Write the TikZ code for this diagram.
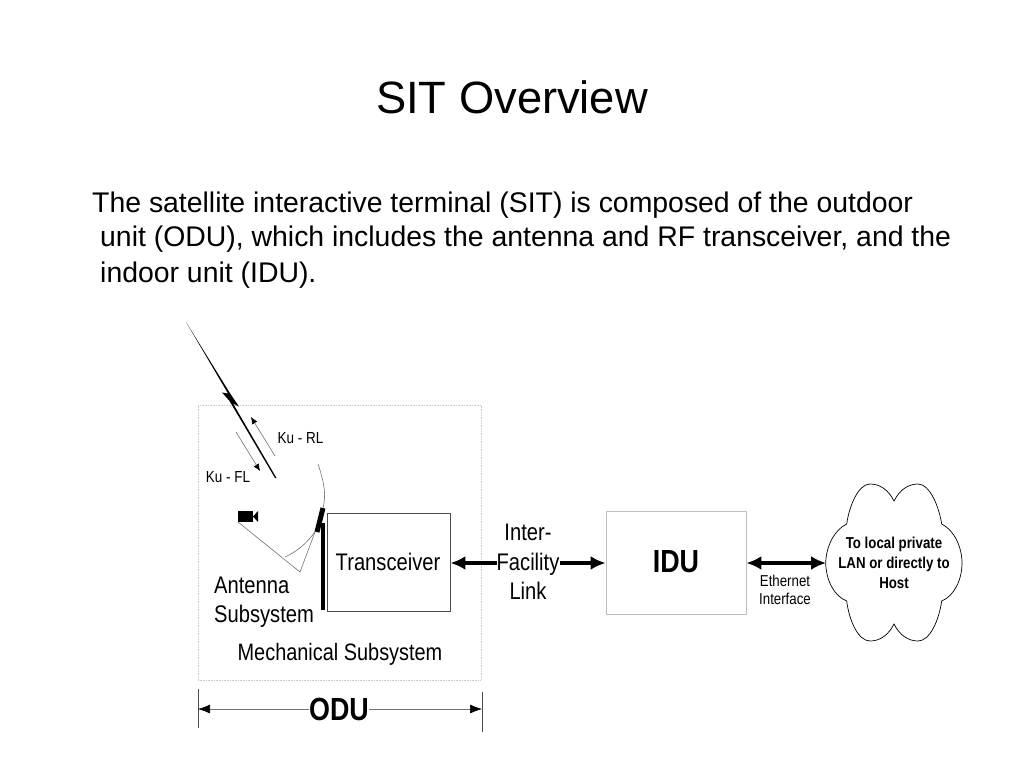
\documentclass[tikz,border=0pt]{standalone}
\usepackage{fontspec}
\setmainfont{Liberation Sans}
\newfontfamily\narrow[FakeStretch=0.84]{Liberation Sans}
\usetikzlibrary{arrows.meta}
\tikzset{
 x=1pt,y=-1pt,
 lbl/.style={inner sep=0pt,align=center,font=\narrow\fontsize{#1}{#1}\selectfont},
 lbl/.default=24,
 bodytext/.style={anchor=base west,inner sep=0pt,font=\fontsize{28.4}{30}\selectfont},
 thin grey/.style={draw=black!55,line width=0.6pt},
 bigarrow/.style={line width=3.2pt,{Latex[length=15pt,width=14pt]}-{Latex[length=15pt,width=14pt]}},
 singlearrow/.style={line width=3.2pt,-{Latex[length=15pt,width=14pt]}},
 smallarrow/.style={thin grey,-{Latex[length=7pt,width=6pt,black]}},
}
\begin{document}
\begin{tikzpicture}
\useasboundingbox (0,0) rectangle (1024,768);
\fill[white] (0,0) rectangle (1024,768);
\node[inner sep=0pt,font=\fontsize{45.3}{50}\selectfont] (title) at (512,97) {SIT Overview};
\node[bodytext] (l1) at (92,212) {The satellite interactive terminal (SIT) is composed of the outdoor};
\node[bodytext] (l2) at (100,246) {unit (ODU), which includes the antenna and RF transceiver, and the};
\node[bodytext] (l3) at (100,282) {indoor unit (IDU).};

% ODU frame
\node[draw=black!20,densely dotted,line width=0.6pt,minimum width=283pt,minimum height=275pt,inner sep=0pt] (odubox) at (339.5,542.5) {};
% Lightning
\coordinate (b1) at (186,322);
\coordinate (b2) at (276.5,478);
\fill[black] (b1) -- (230.5,394) -- (239,406.5) -- (233,403.5) -- (b2) -- (275,478) -- (229.5,401) -- (222,392.5) -- (228,393.5) -- cycle;
% Ku arrows
\coordinate (ra) at (275,456);
\coordinate (rb) at (251,417);
\coordinate (fa) at (236,432);
\coordinate (fb) at (260,471);
\draw[smallarrow] (ra) -- (rb);
\draw[smallarrow] (fa) -- (fb);
\node[lbl=16] (kurl) at (300.5,438.5) {Ku - RL};
\node[lbl=16] (kufl) at (228,477.5) {Ku - FL};
% Antenna
\draw[thin grey] (318,464) .. controls (325,485) and (326,495) .. (323,508);
\draw[thin grey] (316,530) .. controls (308,543) and (296,552) .. (285,557);
\fill[black] (238,511) rectangle (253,522);
\fill[black] (253,516.5) -- (258,511) -- (258,522) -- cycle;
\draw[thin grey] (238,522) -- (300,572) -- (315,532);
\draw[line width=5pt,black] (323,508) -- (317,532);
\draw[line width=3.6pt,black] (323,523) -- (323,610);
% Boxes
\node[draw=black!70,line width=0.9pt,minimum width=123pt,minimum height=98pt,inner sep=0pt] (trans) at (388.5,562) {};
\node[lbl=24] (transl) at (388,561.5) {Transceiver};
\node[lbl=24,align=left,anchor=west] (ant) at (214,602) {Antenna\\[5pt]Subsystem};
\node[lbl=23.7] (mech) at (340,654) {Mechanical Subsystem};
\node[inner sep=0pt,lbl=24] (link) at (528,562) {Inter-\\[5.5pt]Facility\\[5.5pt]Link};
\node[draw=black!25,line width=0.8pt,minimum width=140pt,minimum height=103pt,inner sep=0pt] (idu) at (676,562.5) {};
\node[lbl=32,font=\narrow\bfseries\fontsize{32}{32}\selectfont] (idul) at (676,562) {IDU};
\coordinate (lf) at (497,563);
\coordinate (rf) at (560,563);
\draw[singlearrow] (lf) -- (trans.east|-lf);
\draw[singlearrow] (rf) -- (idu.west|-rf);
% Cloud
\coordinate (cl) at (826,563);
\draw[black,line width=0.7pt,fill=white]
 (894,501) .. controls (888,489) and (879,484) .. (870,484)
 .. controls (858,484) and (849,507) .. (846.7,524)
 .. controls (834,530) and (826,547) .. (825.7,563)
 .. controls (826,580) and (834,596) .. (846.7,601)
 .. controls (849,620) and (858,641) .. (870,641)
 .. controls (879,641) and (888,636) .. (894,624)
 .. controls (900,636) and (909,641) .. (918,641)
 .. controls (930,641) and (939,620) .. (941.7,601)
 .. controls (954,596) and (962,580) .. (962,563)
 .. controls (962,547) and (954,530) .. (941.7,524)
 .. controls (939,507) and (930,484) .. (918,484)
 .. controls (909,484) and (900,489) .. (894,501) -- cycle;
\node[lbl=15.8,font=\narrow\bfseries\fontsize{15.8}{20}\selectfont] (cloudt) at (894,563) {To local private\\LAN or directly to\\Host};
\draw[bigarrow] (idu.east|-cl) -- (cl);
\node[lbl=15.8,font=\narrow\fontsize{15.8}{17.5}\selectfont] (eth) at (785,590) {Ethernet\\Interface};
% ODU dimension
\coordinate (t1a) at (198,689);
\coordinate (t1b) at (198,728);
\coordinate (t2a) at (482,692);
\coordinate (t2b) at (482,732);
\draw[black!70,line width=0.7pt] (t1a) -- (t1b);
\draw[black!70,line width=0.7pt] (t2a) -- (t2b);
\node[lbl=32,font=\narrow\bfseries\fontsize{32}{32}\selectfont] (odu) at (339,709) {ODU};
\draw[thin grey,-{Latex[length=12pt,width=9pt,black]}] (odu.west) -- (t1a|-odu);
\draw[thin grey,-{Latex[length=12pt,width=9pt,black]}] (odu.east) -- (t2a|-odu);
\end{tikzpicture}
\end{document}
